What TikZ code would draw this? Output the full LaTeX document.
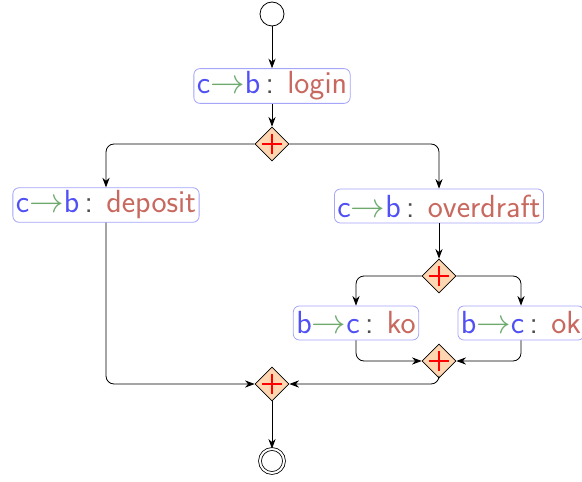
\documentclass[tikz,border=0pt]{standalone}
\usepackage{tikz}
\usetikzlibrary{shapes.geometric, positioning, arrows.meta}
\definecolor{partc}{RGB}{80,80,245}
\definecolor{arrc}{RGB}{110,170,110}
\definecolor{lblc}{RGB}{200,105,95}
\definecolor{gatec}{RGB}{255,214,178}
\definecolor{framec}{RGB}{165,165,250}
\newcommand{\msg}[3]{\textcolor{partc}{#1}\textcolor{arrc}{$\rightarrow$}\textcolor{partc}{#2}\,\textcolor{black!70}{:} \textcolor{lblc}{#3}}
\tikzstyle{event} = [circle, minimum size=12pt, inner sep=0pt, draw=black]
\tikzstyle{finish} = [circle, minimum size=12pt, inner sep=0pt, draw=black, double, double distance=1pt]
\tikzstyle{interaction} = [rectangle, rounded corners=3pt, minimum height=17pt, inner sep=1.5pt, text centered, draw=framec, font=\sffamily\fontsize{16}{18}\selectfont]
\tikzstyle{gateway} = [diamond, minimum size=17pt, inner sep=0pt, draw=black, fill=gatec, path picture={\draw[red, semithick] ([xshift=-5pt]path picture bounding box.center) -- ([xshift=5pt]path picture bounding box.center); \draw[red, semithick] ([yshift=-5pt]path picture bounding box.center) -- ([yshift=5pt]path picture bounding box.center);}]

\begin{document}
\begin{tikzpicture}[on grid, >=Stealth]
		\useasboundingbox (0,0) rectangle (291pt,-240.5pt);
		\node (Start)[event] at (136pt,-7pt){};
		\node (Login)[interaction, below = 36pt of Start]{\msg{c}{b}{login}};
		\node (Split)[gateway, below = 29pt of Login]{};
		\node (Deposit)[interaction, below left = 30.5pt and 83pt of Split]{\msg{c}{b}{deposit}};
		\node (Overdraft)[interaction, below right = 31pt and 83.5pt of Split]{\msg{c}{b}{overdraft}};
		\node (Check)[gateway, below = 35pt of Overdraft]{};
		\node (Ko)[interaction, below left = 23.5pt and 41.5pt of Check]{\msg{b}{c}{ko}};
		\node (Ok)[interaction, below right = 23.5pt and 41pt of Check]{\msg{b}{c}{ok}};
		\node (Checked)[gateway, below = 42.5pt of Check]{};
		\node (Join)[gateway, below = 120pt of Split]{};
		\node (End)[finish, below = 38.5pt of Join]{};
		\draw [->] (Start) -- (Login);
		\draw [->] (Login) -- (Split);
		\draw [->, rounded corners] (Split.west) -| (Deposit.north);
		\draw [->, rounded corners] (Split.east) -| (Overdraft.north);
		\draw [->] (Overdraft) -- (Check);
		\draw [->, rounded corners] (Check.west) -| (Ko.north);
		\draw [->, rounded corners] (Check.east) -| (Ok.north);
		\draw [->, rounded corners] (Ko.south) |- (Checked.west);
		\draw [->, rounded corners] (Ok.south) |- (Checked.east);
		\draw [->, rounded corners] (Deposit.south) |- (Join.west);
		\draw [->, rounded corners] (Checked.south) |- (Join.east);
		\draw [->] (Join) -- (End);
	\end{tikzpicture}
\end{document}
